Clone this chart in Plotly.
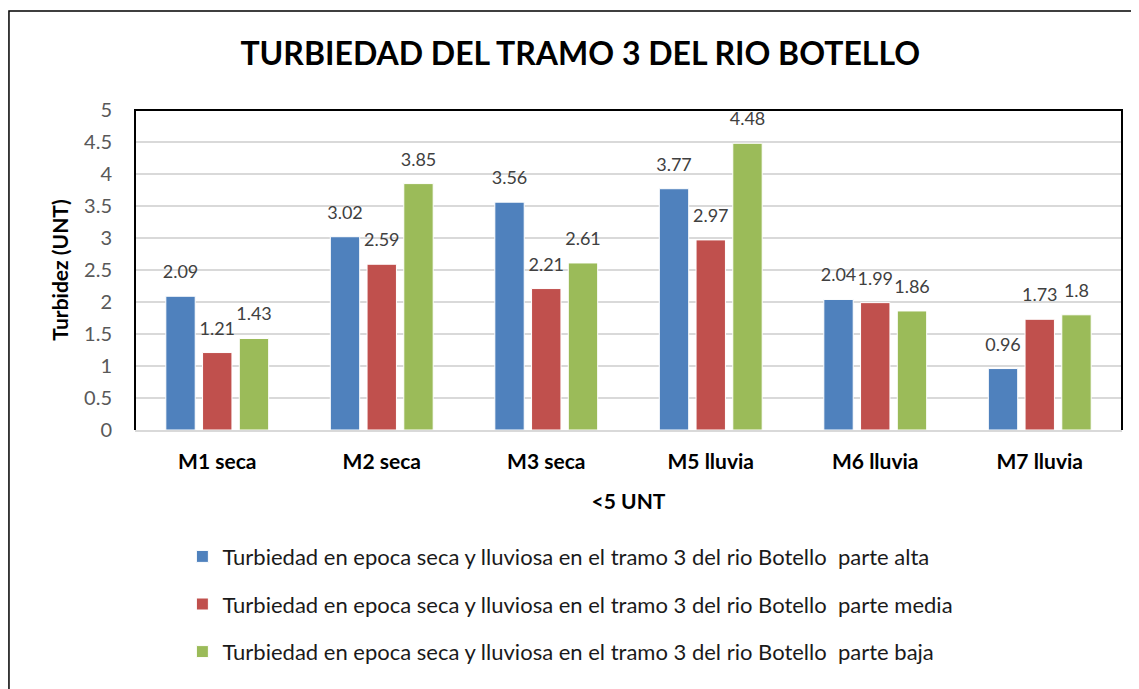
import plotly.graph_objects as go

categories = ["M1 seca", "M2 seca", "M3 seca", "M5 lluvia", "M6 lluvia", "M7 lluvia"]
parte_alta = [2.09, 3.02, 3.56, 3.77, 2.04, 0.96]
parte_media = [1.21, 2.59, 2.21, 2.97, 1.99, 1.73]
parte_baja = [1.43, 3.85, 2.61, 4.48, 1.86, 1.8]
series_names = [
    "Turbiedad en epoca seca y lluviosa en el tramo 3 del rio Botello  parte alta",
    "Turbiedad en epoca seca y lluviosa en el tramo 3 del rio Botello  parte media",
    "Turbiedad en epoca seca y lluviosa en el tramo 3 del rio Botello  parte baja",
]
colors = ["#4F81BD", "#C0504D", "#9BBB59"]
y_ticks = [0, 0.5, 1, 1.5, 2, 2.5, 3, 3.5, 4, 4.5, 5]

FONT = "Lato"
GAP = 0.33

fig = go.Figure()
all_vals = [parte_alta, parte_media, parte_baja]
for i, (name, vals, col) in enumerate(zip(series_names, all_vals, colors)):
    fig.add_trace(go.Bar(
        x=categories, y=vals, name=name,
        marker=dict(color=col, line=dict(color="white", width=1)),
        offsetgroup=str(i), alignmentgroup="a",
        legendgroup=f"g{i}",
    ))
for i, vals in enumerate(all_vals):
    fig.add_trace(go.Scatter(
        x=categories, y=vals, mode="markers+text",
        text=[f"{v:g}" for v in vals], textposition="top center",
        textfont=dict(family=FONT, size=18, color="#404040"),
        marker=dict(size=20, opacity=0),
        offsetgroup=str(i), alignmentgroup="a",
        showlegend=False, hoverinfo="skip", cliponaxis=False,
    ))

fig.update_layout(
    width=1131, height=681,
    paper_bgcolor="white", plot_bgcolor="white",
    font=dict(family=FONT, color="#595959"),
    margin=dict(l=127, r=17, t=102, b=259, autoexpand=False),
    barmode="group", bargap=GAP, bargroupgap=0.2,
    scattermode="group", scattergap=GAP,
    title=dict(text="<b>TURBIEDAD DEL TRAMO 3 DEL RIO BOTELLO</b>",
               x=0.506, xanchor="center", y=1 - 46 / 681, yanchor="middle",
               font=dict(family=FONT, size=32, color="black")),
    showlegend=True,
    legend=dict(orientation="v", x=0.048, xanchor="left", y=-0.33, yanchor="top",
                font=dict(family=FONT, size=22, color="#1a1a1a"),
                tracegroupgap=16, itemwidth=30, bgcolor="rgba(0,0,0,0)"),
    xaxis=dict(
        title=dict(text="<b><5 UNT</b>", font=dict(family=FONT, size=21, color="black"), standoff=22),
        tickfont=dict(family=FONT, size=21, color="black"),
        tickprefix="<b>", ticksuffix="</b>",
        showline=True, linecolor="#d9d9d9", linewidth=2,
        ticks="", ticklabelstandoff=12,
    ),
    yaxis=dict(
        title=dict(text="<b>Turbidez (UNT)</b>", font=dict(family=FONT, size=21, color="black"), standoff=9),
        range=[0, 5], tickvals=y_ticks, ticktext=[f"{t:g}" for t in y_ticks],
        tickfont=dict(family=FONT, size=20, color="#595959"),
        showgrid=True, gridcolor="#d9d9d9", gridwidth=1.5,
        zeroline=False, showline=False, ticks="", ticklabelstandoff=22,
    ),
    shapes=[
        dict(type="path", xref="paper", yref="paper",
             path="M 0 0 L 0 1 L 1 1 L 1 0", line=dict(color="black", width=2)),
        dict(type="path", xref="paper", yref="paper",
             path="M -0.1277 -0.9 L -0.1277 1.309 L 1.05 1.309",
             line=dict(color="black", width=1.5)),
    ],
)

fig.write_html("out.html")
